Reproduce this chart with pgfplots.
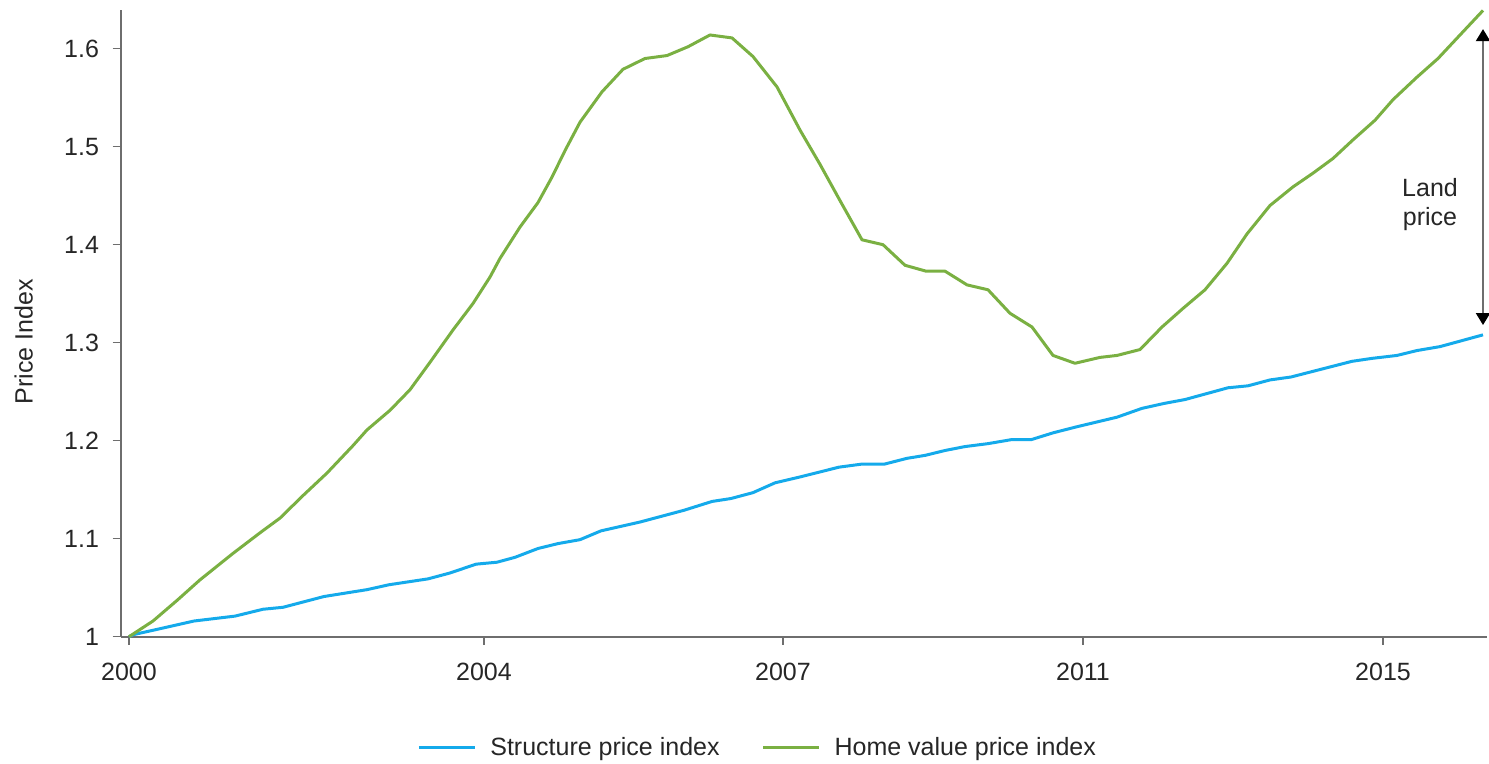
\documentclass[border=0pt]{standalone}
\usepackage{fontspec}
\setmainfont{Liberation Sans}
\usepackage{pgfplots}
\pgfplotsset{compat=1.18}
\usetikzlibrary{arrows.meta}
\definecolor{structblue}{RGB}{20,170,235}
\definecolor{homegreen}{RGB}{122,176,66}
\definecolor{axisgray}{RGB}{110,110,110}
\begin{document}
\fontsize{12.5}{15}\selectfont
\begin{tikzpicture}
\useasboundingbox (-60.35pt,-63.65pt) rectangle (684.15pt,318.35pt);
\begin{axis}[
  scale only axis,
  width=683.15pt, height=313.35pt,
  xmin=-8.3, xmax=1358,
  ymin=1, ymax=1.6395,
  clip=false,
  axis x line*=bottom, axis y line*=left,
  axis line style={-, axisgray, line width=0.9pt},
  tick style={axisgray, line width=0.8pt},
  tick align=outside,
  major tick length=4pt,
  xtick={0,355,654,954,1254},
  xticklabels={2000,2004,2007,2011,2015},
  ytick={1,1.1,1.2,1.3,1.4,1.5,1.6},
  yticklabels={1,1.1,1.2,1.3,1.4,1.5,1.6},
  ticklabel style={font=\fontsize{12.5}{15}\selectfont, text=black!85},
  xticklabel style={yshift=-5pt},
  yticklabel style={xshift=-2.5pt},
  legend style={draw=none, fill=none, legend columns=2,
    at={(axis description cs:0.4669,-0.1775)}, anchor=center,
    font=\fontsize{12.5}{15}\selectfont, text=black!85,
    /tikz/every even column/.append style={column sep=19pt}},
  legend image code/.code={\draw[#1] (0pt,0pt) -- (28pt,0pt); \path (33pt,0pt);},
  every axis plot/.append style={line width=1.5pt, line join=round},
]
\addplot[structblue] table {
x y
0 1.000
4 1.002
26 1.007
65 1.016
106 1.021
134 1.028
154 1.030
195 1.041
238 1.048
260 1.053
299 1.059
321 1.065
347 1.074
368 1.076
386 1.081
409 1.090
429 1.095
451 1.099
472 1.108
511 1.117
555 1.129
583 1.138
602 1.141
624 1.147
646 1.157
671 1.163
710 1.173
732 1.176
755 1.176
778 1.182
796 1.185
816 1.190
836 1.194
859 1.197
882 1.201
902 1.201
924 1.208
947 1.214
988 1.224
1013 1.233
1035 1.238
1056 1.242
1099 1.254
1119 1.256
1141 1.262
1162 1.265
1223 1.281
1243 1.284
1268 1.287
1288 1.292
1311 1.296
1354 1.308
};
\addlegendentry{Structure price index}
\addplot[homegreen] table {
x y
0 1.000
24 1.016
48 1.037
71 1.058
104 1.085
131 1.106
151 1.121
174 1.144
198 1.167
224 1.195
238 1.211
261 1.231
281 1.252
301 1.280
324 1.313
344 1.340
361 1.367
371 1.386
391 1.418
409 1.443
423 1.469
436 1.496
451 1.525
473 1.556
494 1.579
516 1.590
538 1.593
559 1.602
581 1.614
603 1.611
624 1.592
648 1.561
671 1.517
691 1.482
711 1.445
733 1.405
754 1.400
776 1.379
797 1.373
816 1.373
838 1.359
859 1.354
881 1.330
903 1.316
924 1.287
946 1.279
971 1.285
988 1.287
1011 1.293
1033 1.316
1054 1.335
1076 1.354
1098 1.381
1118 1.411
1141 1.440
1164 1.459
1184 1.473
1204 1.488
1224 1.507
1246 1.527
1264 1.548
1288 1.571
1309 1.590
1331 1.614
1354 1.639
};
\addlegendentry{Home value price index}
\draw[axisgray, line width=1pt, {Triangle[width=7pt,length=6pt,color=black]}-{Triangle[width=7pt,length=6pt,color=black]}]
  (axis cs:1354,1.318) -- (axis cs:1354,1.62);
\node[align=center, text=black!85, font=\fontsize{12.5}{14.5}\selectfont] at (axis cs:1301,1.4405) {Land\\price};
\end{axis}
\node[rotate=90, text=black!85] at (-48.5pt,147.5pt) {Price Index};
\end{tikzpicture}
\end{document}
